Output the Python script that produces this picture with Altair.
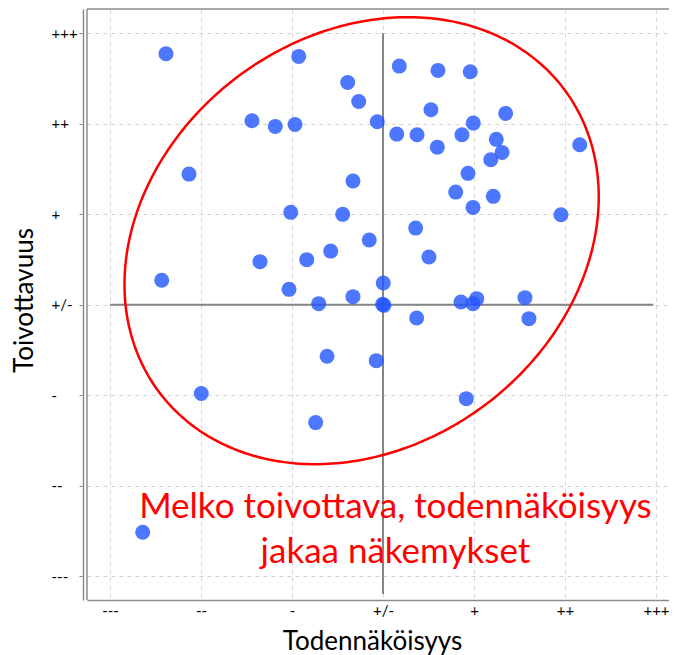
import altair as alt
import pandas as pd
import numpy as np

# --- data ---
x_vals = [-2.385, -0.926, 0.179, 0.604, 0.959, -0.388, -0.267, 0.527, 1.348, -1.440,
          -1.184, -0.967, -0.063, 0.151, 0.374, 0.868, 0.992, 1.245, 0.597, 1.308,
          1.184, 2.162, -2.132, 0.934, -0.330, 0.799, 1.212, 0.989, -1.014, -0.443,
          1.956, 0.359, -0.151, -0.575, -1.352, -0.838, 0.505, -2.432, 0.003, -1.033,
          -0.330, -0.707, -0.005, 0.011, 0.857, 1.030, 0.989, 1.560, 0.370, 1.604,
          -0.615, -0.074, -1.997, 0.915, -0.740, -2.641]
y_vals = [2.773, 2.744, 2.637, 2.589, 2.575, 2.456, 2.246, 2.155, 2.114, 2.033,
          1.970, 1.992, 2.022, 1.885, 1.878, 1.878, 2.007, 1.827, 1.741, 1.683,
          1.602, 1.768, 1.443, 1.451, 1.366, 1.244, 1.197, 1.075, 1.020, 0.998,
          0.994, 0.846, 0.714, 0.592, 0.475, 0.497, 0.526, 0.269, 0.239, 0.169,
          0.088, 0.011, 0.003, -0.008, 0.029, 0.066, 0.011, 0.077, -0.148, -0.155,
          -0.571, -0.619, -0.983, -1.039, -1.304, -2.516]

tick_values = [-3, -2, -1, 0, 1, 2, 3]
tick_labels = ["---", "--", "-", "+/-", "+", "++", "+++"]

x_title = "Todennäköisyys"
y_title = "Toivottavuus"
note_lines = ["Melko toivottava, todennäköisyys", "jakaa näkemykset"]
note_x = [0.137, 0.137]
note_y = [-2.24, -2.737]

# annotation ellipse (centre, semi-axes, rotation)
ell_cx, ell_cy = -0.235, 0.707
ell_a, ell_b = 2.785, 2.267
ell_angle = 37.4

x_domain = [-3.253, 3.231]
y_domain = [-3.265, 3.268]
W, H = 590, 591

pts = pd.DataFrame({"x": x_vals, "y": y_vals})

t = np.linspace(0, 2 * np.pi, 361)
th = np.deg2rad(ell_angle)
ell = pd.DataFrame({
    "x": ell_cx + ell_a * np.cos(t) * np.cos(th) - ell_b * np.sin(t) * np.sin(th),
    "y": ell_cy + ell_a * np.cos(t) * np.sin(th) + ell_b * np.sin(t) * np.cos(th),
    "i": np.arange(len(t)),
})

label_expr = "[" + ",".join("'" + s + "'" for s in tick_labels) + "][datum.value + 3]"

xs = alt.Scale(domain=x_domain, nice=False, zero=False)
ys = alt.Scale(domain=y_domain, nice=False, zero=False)

x_axis = alt.Axis(values=tick_values, labelExpr=label_expr, title=x_title,
                  grid=True, gridDash=[4, 4], gridColor="#d4d4d4", gridWidth=1,
                  ticks=False, labelPadding=3, labelFont="Lato", labelFontSize=15,
                  labelColor="#000000", domainColor="#8c8c8c", domainWidth=1.5,
                  titleFont="Lato", titleFontSize=26, titleFontWeight="normal",
                  titleColor="#000000", titleX=285, titleY=49,
                  titleBaseline="alphabetic", labelFlush=False)
y_axis = alt.Axis(values=tick_values, labelExpr=label_expr, title=y_title,
                  grid=True, gridDash=[4, 4], gridColor="#d4d4d4", gridWidth=1,
                  ticks=True, tickSize=4, tickColor="#8c8c8c", tickWidth=1,
                  offset=4, labelAlign="left", labelBaseline="middle",
                  labelPadding=28, labelFont="Lato", labelFontSize=15,
                  labelColor="#000000", domainColor="#8c8c8c", domainWidth=1.5,
                  titleFont="Lato", titleFontSize=26, titleFontWeight="normal",
                  titleColor="#000000", titleX=-51, titleY=291,
                  titleBaseline="alphabetic", labelFlush=False)

base = alt.Chart(pts).mark_circle(size=225, color="#2255ff", opacity=0.8).encode(
    x=alt.X("x:Q", scale=xs, axis=x_axis),
    y=alt.Y("y:Q", scale=ys, axis=y_axis),
)

frame_top = alt.Chart(pd.DataFrame({"a": [0]})).mark_rule(
    color="#8c8c8c", strokeWidth=1.5).encode(
    x=alt.value(0), x2=alt.value(W), y=alt.value(0))
frame_left = alt.Chart(pd.DataFrame({"a": [0]})).mark_rule(
    color="#8c8c8c", strokeWidth=1.5).encode(
    x=alt.value(0), y=alt.value(0), y2=alt.value(H))

cross_h = alt.Chart(pd.DataFrame({"x": [-3], "x2": [2.97], "y": [0]})).mark_rule(
    color="#858585", strokeWidth=2).encode(
    x=alt.X("x:Q", scale=xs), x2="x2:Q", y=alt.Y("y:Q", scale=ys))
cross_v = alt.Chart(pd.DataFrame({"x": [0], "y": [3], "y2": [-3.2]})).mark_rule(
    color="#858585", strokeWidth=2).encode(
    x=alt.X("x:Q", scale=xs), y=alt.Y("y:Q", scale=ys), y2="y2:Q")

ellipse = alt.Chart(ell).mark_line(color="#ff0000", strokeWidth=2.5).encode(
    x=alt.X("x:Q", scale=xs), y=alt.Y("y:Q", scale=ys), order="i:Q")

note = alt.Chart(pd.DataFrame({"x": note_x, "y": note_y, "t": note_lines})).mark_text(
    color="#ff0000", font="Lato", fontSize=35, align="center", baseline="middle").encode(
    x=alt.X("x:Q", scale=xs), y=alt.Y("y:Q", scale=ys), text="t:N")

chart = alt.layer(cross_h, cross_v, base, ellipse, note, frame_top, frame_left).properties(
    width=W, height=H,
    autosize=alt.AutoSizeParams(type="none"),
    padding={"left": 79, "top": 1, "right": -8, "bottom": 55},
).configure_view(stroke="transparent", strokeOpacity=0)

chart.save("out.html", embed_options={"renderer": "svg", "actions": False})
